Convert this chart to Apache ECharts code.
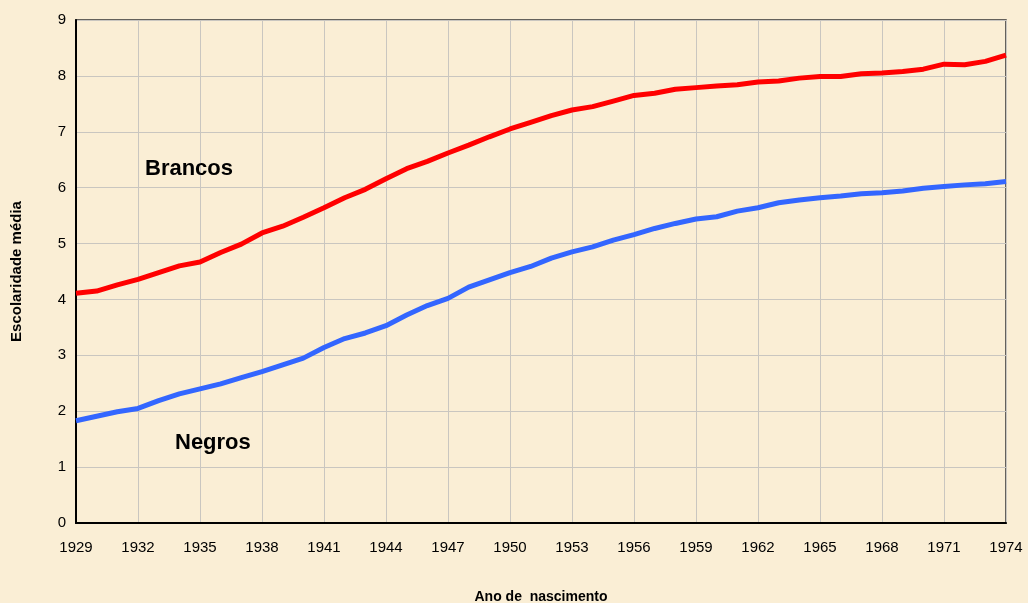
<!DOCTYPE html>
<html>
<head>
<meta charset="utf-8">
<script src="https://cdn.jsdelivr.net/npm/echarts@6/dist/echarts.min.js"></script>
<style>
  html, body { margin: 0; padding: 0; background: #faeed5; }
  #chart { width: 1028px; height: 603px; }
</style>
</head>
<body>
<div id="chart"></div>
<script>
// years of birth
const years = [];
for (let y = 1929; y <= 1974; y++) years.push(y);

// mean schooling, whites
const brancos = [
  4.11, 4.15, 4.26, 4.36, 4.48, 4.60, 4.67, 4.84, 4.99, 5.19,
  5.31, 5.47, 5.64, 5.82, 5.97, 6.16, 6.34, 6.47, 6.62, 6.76,
  6.91, 7.05, 7.17, 7.29, 7.39, 7.45, 7.55, 7.65, 7.69, 7.76,
  7.79, 7.82, 7.84, 7.89, 7.91, 7.96, 7.99, 7.99, 8.04, 8.05,
  8.08, 8.12, 8.21, 8.20, 8.26, 8.37
];

// mean schooling, blacks
const negros = [
  1.83, 1.91, 1.99, 2.05, 2.19, 2.31, 2.40, 2.49, 2.60, 2.71,
  2.83, 2.95, 3.14, 3.30, 3.40, 3.53, 3.72, 3.89, 4.02, 4.22,
  4.35, 4.48, 4.59, 4.74, 4.85, 4.94, 5.06, 5.16, 5.27, 5.36,
  5.44, 5.48, 5.58, 5.64, 5.73, 5.78, 5.82, 5.85, 5.89, 5.91,
  5.94, 5.99, 6.02, 6.05, 6.07, 6.11
];

const font = '"Liberation Sans", Arial, sans-serif';

var myChart = echarts.init(document.getElementById('chart'));
myChart.setOption({
  backgroundColor: '#faeed5',
  animation: false,
  grid: {
    left: 76,
    right: 22,
    top: 20,
    bottom: 80,
    outerBoundsMode: 'none',
    show: true,
    borderColor: '#333',
    borderWidth: 1.5
  },
  xAxis: {
    type: 'value',
    min: 1929,
    max: 1974,
    interval: 3,
    name: 'Ano de  nascimento',
    nameLocation: 'middle',
    nameGap: 67,
    nameTextStyle: { fontFamily: font, fontWeight: 'bold', fontSize: 14, color: '#000' },
    axisLine: { lineStyle: { color: '#000', width: 2 } },
    axisTick: { show: false },
    axisLabel: {
      margin: 17,
      fontFamily: font,
      fontSize: 15,
      color: '#000',
      formatter: v => String(v)
    },
    splitLine: { show: true, lineStyle: { color: '#c9c6c0', width: 1 } }
  },
  yAxis: {
    type: 'value',
    min: 0,
    max: 9,
    interval: 1,
    name: 'Escolaridade média',
    nameLocation: 'middle',
    nameGap: 52,
    nameTextStyle: { fontFamily: font, fontWeight: 'bold', fontSize: 15, color: '#000' },
    axisLine: { show: true, lineStyle: { color: '#000', width: 2 } },
    axisTick: { show: false },
    axisLabel: { margin: 10, fontFamily: font, fontSize: 15, color: '#000' },
    splitLine: { show: true, lineStyle: { color: '#c9c6c0', width: 1 } }
  },
  graphic: [
    {
      type: 'text', left: 145, top: 158, z: 100,
      style: { text: 'Brancos', font: 'bold 22px ' + font, fill: '#000' }
    },
    {
      type: 'text', left: 175, top: 432, z: 100,
      style: { text: 'Negros', font: 'bold 22px ' + font, fill: '#000' }
    }
  ],
  series: [
    {
      name: 'Brancos',
      type: 'line',
      data: years.map((y, i) => [y, brancos[i]]),
      showSymbol: false,
      lineStyle: { color: '#ff0000', width: 5 }
    },
    {
      name: 'Negros',
      type: 'line',
      data: years.map((y, i) => [y, negros[i]]),
      showSymbol: false,
      lineStyle: { color: '#3366ff', width: 5 }
    }
  ]
});
</script>
</body>
</html>
